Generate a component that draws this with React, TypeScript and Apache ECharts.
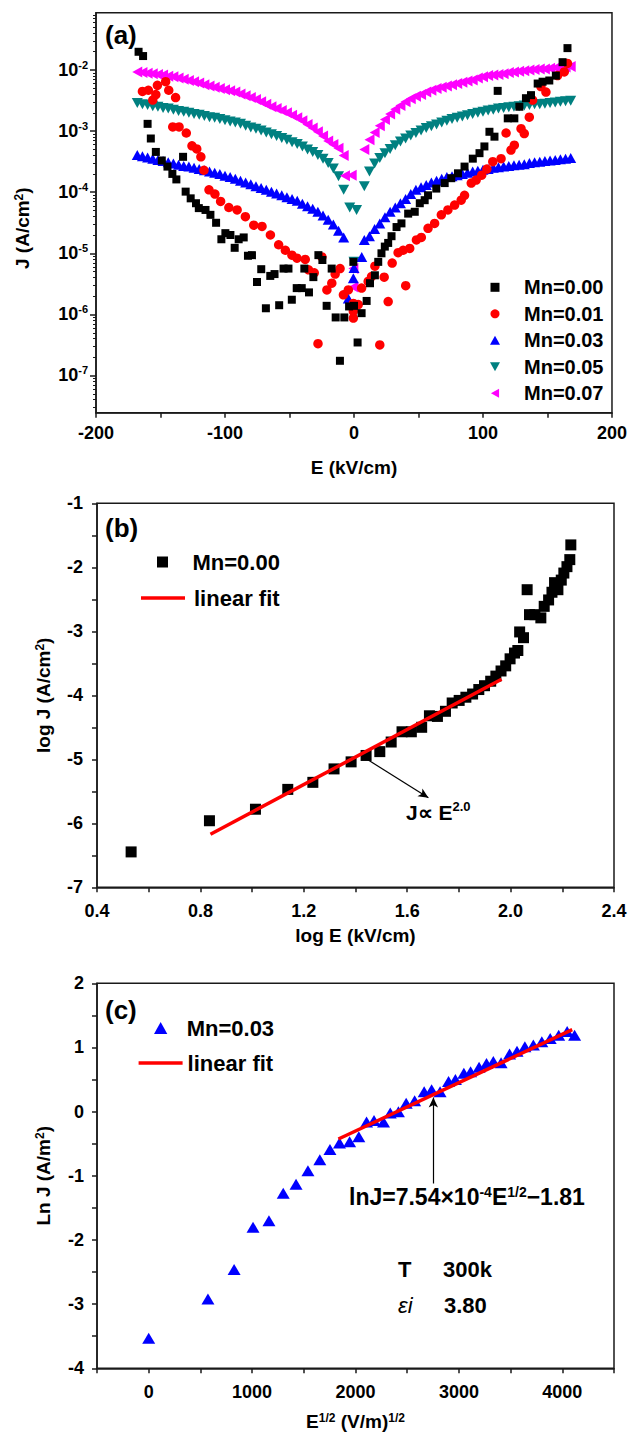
import React, { useEffect, useRef } from 'react';
import * as echarts from 'echarts';

const FONT = '"Liberation Sans", Arial, Helvetica, sans-serif';

// ---------------- Panel (a): log10 J (A/cm²) versus E (kV/cm) ----------------
const fieldLeft = [-168, -164, -160, -156, -152, -148, -144, -140, -136, -132, -128, -124, -120, -116, -112, -108, -104, -100, -96, -92, -88, -84, -80, -76, -72, -68, -64, -60, -56, -52, -48, -44, -40, -36, -32, -28, -24, -20, -16, -12, -8];
const fieldRight = [8, 12, 16, 20, 24, 28, 32, 36, 40, 44, 48, 52, 56, 60, 64, 68, 72, 76, 80, 84, 88, 92, 96, 100, 104, 108, 112, 116, 120, 124, 128, 132, 136, 140, 144, 148, 152, 156, 160, 164, 168];

const mn000E = [-167, -163.5, -160, -157.5, -153.6, -149, -144.6, -140.8, -137.7, -132.5, -130.5, -126.6, -122.5, -120.3, -115.1, -111.3, -106.9, -102.8, -99.7, -95.8, -92.5, -89.4, -85.5, -82.2, -79.1, -75.2, -71.9, -68.3, -64.9, -61.6, -58, -54.6, -50.8, -48.2, -44.4, -40.5, -38.5, -34.9, -31.5, -27.6, -24.5, -21.2, -17.3, -14.2, -10.9, -7.5, -3.8, -0.5, 0, 2.8, 5.9, 9.8, 12.4, 16.2, 18.8, 21.3, 23.9, 26.5, 29.1, 33, 36.8, 42, 47.1, 51, 54.8, 57.4, 63.8, 70.3, 75.4, 80.6, 85.7, 92.1, 97.3, 101.1, 105, 108.9, 111.4, 119.2, 124.3, 128.2, 133.3, 137.2, 142.4, 146.2, 151.4, 156.5, 161.7, 165.5];
const mn000LogJ = [-1.70, -1.77, -2.88, -3.12, -3.34, -3.48, -3.58, -3.70, -3.79, -3.42, -3.99, -4.10, -4.18, -4.26, -4.29, -4.37, -4.50, -4.77, -4.67, -4.70, -4.91, -4.77, -4.74, -5.04, -5.03, -5.47, -5.26, -5.90, -5.37, -5.34, -5.85, -5.25, -5.25, -5.76, -5.57, -5.57, -5.25, -5.64, -5.39, -5.03, -5.11, -5.86, -5.25, -6.05, -6.76, -6.05, -5.87, -5.14, -5.86, -6.46, -5.98, -5.78, -5.49, -5.36, -5.14, -5.00, -4.89, -4.83, -4.72, -4.57, -4.51, -4.35, -4.32, -4.18, -4.13, -4.05, -3.94, -3.85, -3.77, -3.69, -3.58, -3.45, -3.36, -3.25, -3.01, -3.09, -2.34, -2.79, -2.79, -2.60, -2.46, -2.41, -2.22, -2.19, -2.17, -2.09, -1.87, -1.64];

const mn001E = [-164, -159.4, -156, -153.6, -152.4, -146, -143.6, -138.3, -140.5, -135.6, -130, -125.6, -121.9, -118.7, -116.3, -112.4, -107.8, -103.4, -97, -90.6, -84.2, -77.7, -71.3, -64.8, -58.4, -53.2, -48.1, -44.2, -37.8, -35.2, -30.8, -27.9, -24.9, -21, -17.2, -14.6, -10.8, -8.2, -4.4, -0.5, -0.5, -0.5, 0.7, 3.3, 5.9, 11, 13.6, 16.2, 20, 23.4, 26.5, 29.6, 34.2, 38.1, 40.1, 43.2, 48.4, 52.2, 57.4, 62.5, 67.7, 72.8, 78, 83.1, 85.7, 90.9, 94.7, 99, 103, 107.6, 114, 117.9, 121.7, 124.3, 129.5, 132, 135.9, 138.5, 144.9, 148.8, 157.8, 163, 165.5];
const mn001LogJ = [-2.35, -2.33, -2.49, -2.40, -2.25, -2.19, -2.33, -2.45, -2.93, -2.93, -3.03, -3.24, -3.29, -3.42, -3.64, -3.96, -4.03, -4.15, -4.25, -4.29, -4.40, -4.54, -4.56, -4.70, -4.86, -4.95, -5.03, -5.08, -5.10, -5.27, -5.32, -6.48, -5.06, -5.60, -5.49, -5.34, -5.25, -5.68, -5.60, -5.82, -5.95, -6.06, -5.87, -5.84, -5.57, -5.46, -5.38, -5.21, -6.50, -5.39, -5.79, -5.16, -4.99, -4.95, -5.53, -4.92, -4.78, -4.74, -4.59, -4.51, -4.37, -4.29, -4.21, -4.13, -4.05, -3.85, -3.80, -3.72, -3.62, -3.50, -3.45, -3.03, -3.31, -3.23, -2.96, -3.04, -2.77, -2.49, -2.27, -2.36, -2.09, -2.03, -1.89];

const mn003Left = [-3.39, -3.41, -3.43, -3.45, -3.47, -3.49, -3.51, -3.53, -3.55, -3.57, -3.58, -3.60, -3.62, -3.64, -3.66, -3.68, -3.70, -3.73, -3.75, -3.78, -3.81, -3.84, -3.87, -3.90, -3.93, -3.96, -3.99, -4.02, -4.05, -4.08, -4.11, -4.14, -4.19, -4.23, -4.27, -4.32, -4.38, -4.45, -4.53, -4.63, -4.74];
const mn003Right = [-4.78, -4.72, -4.60, -4.51, -4.41, -4.32, -4.25, -4.18, -4.11, -4.03, -3.96, -3.92, -3.88, -3.84, -3.81, -3.78, -3.75, -3.74, -3.72, -3.70, -3.68, -3.66, -3.65, -3.63, -3.62, -3.60, -3.59, -3.58, -3.57, -3.56, -3.55, -3.54, -3.52, -3.51, -3.50, -3.49, -3.48, -3.47, -3.46, -3.45, -3.44];
const mn003CenterE = [-4.4, -0.5, 0, 6];
const mn003CenterLogJ = [-5.74, -5.41, -5.24, -5.06];

const mn005Left = [-2.54, -2.56, -2.57, -2.59, -2.60, -2.62, -2.63, -2.65, -2.67, -2.68, -2.70, -2.72, -2.73, -2.75, -2.77, -2.78, -2.80, -2.82, -2.84, -2.86, -2.88, -2.91, -2.94, -2.96, -2.99, -3.02, -3.05, -3.08, -3.11, -3.14, -3.18, -3.21, -3.25, -3.30, -3.34, -3.39, -3.45, -3.52, -3.61, -3.74, -3.96];
const mn005Right = [-3.90, -3.66, -3.53, -3.44, -3.36, -3.29, -3.23, -3.17, -3.12, -3.07, -3.03, -2.99, -2.95, -2.92, -2.89, -2.86, -2.83, -2.80, -2.78, -2.76, -2.74, -2.72, -2.70, -2.68, -2.66, -2.65, -2.63, -2.62, -2.61, -2.60, -2.59, -2.58, -2.57, -2.56, -2.56, -2.55, -2.54, -2.53, -2.52, -2.51, -2.50];
const mn005CenterE = [-3.3, 0, 2];
const mn005CenterLogJ = [-4.25, -5.14, -4.29];

const mn007Left = [-2.03, -2.04, -2.05, -2.06, -2.07, -2.08, -2.10, -2.11, -2.13, -2.15, -2.17, -2.19, -2.21, -2.24, -2.26, -2.28, -2.30, -2.32, -2.34, -2.36, -2.39, -2.42, -2.45, -2.48, -2.52, -2.56, -2.60, -2.63, -2.66, -2.70, -2.74, -2.78, -2.83, -2.89, -2.95, -3.01, -3.08, -3.16, -3.22, -3.28, -3.40];
const mn007Right = [-3.30, -3.14, -3.02, -2.91, -2.81, -2.72, -2.64, -2.58, -2.52, -2.47, -2.43, -2.40, -2.36, -2.33, -2.30, -2.28, -2.26, -2.24, -2.22, -2.20, -2.18, -2.16, -2.13, -2.11, -2.09, -2.08, -2.07, -2.06, -2.04, -2.03, -2.02, -2.01, -2.00, -1.99, -1.98, -1.98, -1.97, -1.96, -1.96, -1.95, -1.94];
const mn007CenterE = [-7, -1.8, -0.5, -0.5];
const mn007CenterLogJ = [-3.73, -3.72, -5.25, -5.55];

const decadeTicks = [-7, -6, -5, -4, -3, -2];
const fieldLabels = [-200, -100, 0, 100, 200];
const legendNamesA = ['Mn=0.00', 'Mn=0.01', 'Mn=0.03', 'Mn=0.05', 'Mn=0.07'];

// ---------------- Panel (b): log J versus log E, Mn=0.00 ----------------
const logEb = [0.532, 0.835, 1.013, 1.138, 1.235, 1.317, 1.383, 1.441, 1.494, 1.538, 1.580, 1.616, 1.656, 1.686, 1.717, 1.748, 1.774, 1.801, 1.827, 1.853, 1.877, 1.899, 1.923, 1.943, 1.963, 1.981, 1.998, 2.015, 2.028, 2.035, 2.050, 2.064, 2.073, 2.094, 2.117, 2.130, 2.147, 2.160, 2.170, 2.183, 2.196, 2.206, 2.218, 2.229, 2.233];
const logJb = [-6.447, -5.96, -5.78, -5.47, -5.36, -5.15, -5.04, -4.94, -4.88, -4.73, -4.57, -4.57, -4.50, -4.32, -4.33, -4.25, -4.12, -4.08, -4.03, -3.98, -3.91, -3.85, -3.78, -3.70, -3.62, -3.54, -3.43, -3.34, -3.30, -3.01, -3.10, -2.35, -2.74, -2.74, -2.79, -2.61, -2.51, -2.39, -2.24, -2.35, -2.20, -2.09, -1.99, -1.88, -1.65];
const fitBx = [0.839, 1.965];
const fitBy = [-6.17, -3.75];
const arrowBx = [1.425, 1.682];
const arrowBy = [-4.95, -5.60];
const logELabels = [0.4, 0.8, 1.2, 1.6, 2.0, 2.4];
const logJLabels = [-7, -6, -5, -4, -3, -2, -1];

// ---------------- Panel (c): Ln J versus E^1/2, Mn=0.03 ----------------
const sqrtEc = [0, 573, 826, 1009, 1163, 1301, 1425, 1540, 1655, 1753, 1845, 1943, 2032, 2107, 2179, 2271, 2336, 2415, 2490, 2572, 2664, 2736, 2818, 2900, 2966, 3048, 3113, 3195, 3267, 3333, 3408, 3490, 3562, 3638, 3720, 3802, 3883, 3965, 4047, 4119];
const lnJc = [-3.53, -2.92, -2.46, -1.80, -1.70, -1.27, -1.13, -0.92, -0.75, -0.59, -0.49, -0.47, -0.39, -0.16, -0.14, -0.16, -0.02, 0.00, 0.13, 0.17, 0.31, 0.34, 0.31, 0.47, 0.50, 0.60, 0.62, 0.69, 0.75, 0.78, 0.76, 0.90, 0.94, 1.01, 1.04, 1.09, 1.14, 1.19, 1.25, 1.19];
const fitCx = [1835, 4096];
const fitCy = [-0.426, 1.278];
const arrowCx = [2753, 2753];
const arrowCy = [-1.12, 0.22];
const sqrtELabels = [0, 1000, 2000, 3000, 4000];
const lnJLabels = [-4, -3, -2, -1, 0, 1, 2];

// ---------------- helpers ----------------
const pairs = (xs: number[], ys: number[]) => xs.map((x, i) => [x, ys[i]]);

const SQUARE = 'path://M0,0L10,0L10,10L0,10Z';
const TRI_UP = 'path://M5,0L10,9L0,9Z';
const TRI_DOWN = 'path://M0,0L10,0L5,9Z';
const TRI_LEFT = 'path://M0,5L9,0L9,10Z';
const LINE_ICON = 'path://M0,0L44,0L44,3.5L0,3.5Z';

const AX = '#1a1a1a';
const tickFont = { fontSize: 18, fontWeight: 'bold' as const, color: '#000', fontFamily: FONT };
const nameFont = { fontSize: 19, fontWeight: 'bold' as const, color: '#000', fontFamily: FONT };
const supRich = { sup: { fontSize: 12, fontWeight: 'bold' as const, fontFamily: FONT, verticalAlign: 'top' as const, lineHeight: 12, color: '#000' } };

const minorLogTicks: number[] = [];
for (let n = -8; n <= -2; n++) {
  for (let k = 2; k <= 9; k++) {
    const v = n + Math.log10(k);
    if (v > -7.61 && v < -1.06) minorLogTicks.push(v);
  }
}

function baseX(gridIndex: number, min: number, max: number, interval: number, labels: number[], fmt: (v: number) => string, margin: number, name: string, nameGap: number) {
  return {
    gridIndex, type: 'value', min, max, interval,
    axisLine: { show: true, onZero: false, lineStyle: { color: AX, width: 1.5 } },
    axisTick: { show: true, length: 5, inside: false, lineStyle: { color: AX, width: 1.5 } },
    axisLabel: { customValues: labels, formatter: fmt, margin, ...tickFont },
    splitLine: { show: false },
    name, nameLocation: 'middle', nameGap,
    nameTextStyle: { ...nameFont, rich: supRich },
  };
}

function buildOption() {
  const gridBox = { show: true, borderColor: AX, borderWidth: 1.5, backgroundColor: 'transparent' };
  const legendText = (size: number) => ({ fontSize: size, fontWeight: 'bold' as const, color: '#000', fontFamily: FONT, lineHeight: size });
  const solid = (color: string) => ({ color, opacity: 1 });

  return {
    animation: false,
    backgroundColor: '#fff',
    textStyle: { fontFamily: FONT },
    grid: [
      { left: 96, right: 16, top: 12.7, height: 400, ...gridBox },
      { left: 97, right: 16, top: 503.3, height: 384, ...gridBox },
      { left: 97, right: 16, top: 983.3, height: 385, ...gridBox },
    ],
    xAxis: [
      baseX(0, -200, 200, 50, fieldLabels, (v: number) => String(v), 11, 'E (kV/cm)', 45),
      baseX(1, 0.4, 2.4, 0.2, logELabels, (v: number) => v.toFixed(1), 15, 'log E (kV/cm)', 39),
      baseX(2, -500, 4500, 500, sqrtELabels, (v: number) => String(v), 15, 'E{sup|1/2} (V/m){sup|1/2}', 44),
    ],
    yAxis: [
      {
        gridIndex: 0, type: 'value', min: -7.61, max: -1.06, position: 'left',
        axisLine: { show: true, onZero: false, lineStyle: { color: AX, width: 1.5 } },
        axisTick: { show: true, length: 6, customValues: decadeTicks, lineStyle: { color: AX, width: 1.5 } },
        axisLabel: {
          customValues: decadeTicks, margin: 8, ...tickFont, lineHeight: 22,
          formatter: (v: number) => '10{sup|' + Math.round(v) + '}',
          rich: { sup: { fontSize: 11, fontWeight: 'bold', fontFamily: FONT, verticalAlign: 'top', lineHeight: 11, color: '#000' } },
        },
        splitLine: { show: false },
        name: 'J (A/cm{sup|2})', nameLocation: 'middle', nameGap: 64,
        nameTextStyle: { ...nameFont, rich: supRich, padding: [0, 31, 0, 0] },
      },
      {
        gridIndex: 0, type: 'value', min: -7.61, max: -1.06, position: 'left',
        axisLine: { show: false, onZero: false },
        axisTick: { show: true, length: 3, customValues: minorLogTicks, lineStyle: { color: AX, width: 1 } },
        axisLabel: { show: false },
        splitLine: { show: false },
      },
      {
        gridIndex: 1, type: 'value', min: -7, max: -1, interval: 0.5,
        axisLine: { show: true, onZero: false, lineStyle: { color: AX, width: 1.5 } },
        axisTick: { show: true, length: 5, lineStyle: { color: AX, width: 1.5 } },
        axisLabel: { customValues: logJLabels, formatter: (v: number) => String(v), margin: 14, ...tickFont },
        splitLine: { show: false },
        name: 'log J (A/cm{sup|2})', nameLocation: 'middle', nameGap: 44,
        nameTextStyle: { ...nameFont, rich: supRich },
      },
      {
        gridIndex: 2, type: 'value', min: -4, max: 2, interval: 0.5,
        axisLine: { show: true, onZero: false, lineStyle: { color: AX, width: 1.5 } },
        axisTick: { show: true, length: 5, lineStyle: { color: AX, width: 1.5 } },
        axisLabel: { customValues: lnJLabels, formatter: (v: number) => String(v), margin: 13, ...tickFont },
        splitLine: { show: false },
        name: 'Ln J (A/m{sup|2})', nameLocation: 'middle', nameGap: 44,
        nameTextStyle: { ...nameFont, rich: supRich },
      },
    ],
    legend: [
      {
        orient: 'vertical', left: 490, top: 277.3, padding: 0,
        itemWidth: 48, itemHeight: 9, itemGap: 6.5, selectedMode: false,
        data: legendNamesA, textStyle: legendText(20),
      },
      {
        orient: 'vertical', left: 157, top: 551, padding: 0,
        itemWidth: 50, itemHeight: 11, selectedMode: false,
        data: ['Mn=0.00'], textStyle: legendText(22),
      },
      {
        orient: 'vertical', left: 141, top: 587, padding: 0,
        itemWidth: 44, itemHeight: 3.5, selectedMode: false,
        data: [{ name: 'linear fit', icon: LINE_ICON, itemStyle: { color: '#ff0000', borderWidth: 0 } }],
        textStyle: { ...legendText(22), padding: [0, 0, 0, 4] },
      },
      {
        orient: 'vertical', left: 154, top: 1017, padding: 0,
        itemWidth: 42, itemHeight: 12, selectedMode: false,
        data: ['Mn=0.03'], textStyle: legendText(22),
      },
      {
        orient: 'vertical', left: 138.6, top: 1052, padding: 0,
        itemWidth: 44, itemHeight: 3.5, selectedMode: false,
        data: [{ name: 'linear fit', icon: LINE_ICON, itemStyle: { color: '#ff0000', borderWidth: 0 } }],
        textStyle: legendText(22),
      },
    ],
    series: [
      {
        name: 'Mn=0.00', type: 'scatter', xAxisIndex: 0, yAxisIndex: 0, z: 6,
        symbol: SQUARE, symbolSize: 8, itemStyle: solid('#000000'),
        data: pairs(mn000E, mn000LogJ),
      },
      {
        name: 'Mn=0.01', type: 'scatter', xAxisIndex: 0, yAxisIndex: 0, z: 5,
        symbol: 'circle', symbolSize: 9.5, itemStyle: solid('#ff0000'),
        data: pairs(mn001E, mn001LogJ),
      },
      {
        name: 'Mn=0.03', type: 'scatter', xAxisIndex: 0, yAxisIndex: 0, z: 4,
        symbol: TRI_UP, symbolSize: [11, 10], itemStyle: solid('#0000ff'),
        data: [...pairs(fieldLeft, mn003Left), ...pairs(mn003CenterE, mn003CenterLogJ), ...pairs(fieldRight, mn003Right)],
      },
      {
        name: 'Mn=0.05', type: 'scatter', xAxisIndex: 0, yAxisIndex: 0, z: 3,
        symbol: TRI_DOWN, symbolSize: [11, 10], itemStyle: solid('#008080'),
        data: [...pairs(fieldLeft, mn005Left), ...pairs(mn005CenterE, mn005CenterLogJ), ...pairs(fieldRight, mn005Right)],
      },
      {
        name: 'Mn=0.07', type: 'scatter', xAxisIndex: 0, yAxisIndex: 0, z: 3,
        symbol: TRI_LEFT, symbolSize: [10, 11], itemStyle: solid('#ff00ff'),
        data: [...pairs(fieldLeft, mn007Left), ...pairs(mn007CenterE, mn007CenterLogJ), ...pairs(fieldRight, mn007Right)],
      },
      {
        name: 'Mn=0.00', type: 'scatter', xAxisIndex: 1, yAxisIndex: 2,
        symbol: SQUARE, symbolSize: 11, itemStyle: solid('#000000'),
        data: pairs(logEb, logJb),
      },
      {
        name: 'linear fit', type: 'line', xAxisIndex: 1, yAxisIndex: 2, z: 5,
        showSymbol: false, symbol: 'none', color: '#ff0000',
        lineStyle: { color: '#ff0000', width: 3.5 }, itemStyle: { color: '#ff0000' },
        data: pairs(fitBx, fitBy),
        markLine: {
          silent: true, symbol: ['none', 'arrow'], symbolSize: [7, 10],
          label: { show: false },
          lineStyle: { color: '#000', width: 1.2, type: 'solid' },
          data: [[{ coord: [arrowBx[0], arrowBy[0]] }, { coord: [arrowBx[1], arrowBy[1]] }]],
        },
      },
      {
        name: 'Mn=0.03', type: 'scatter', xAxisIndex: 2, yAxisIndex: 3,
        symbol: TRI_UP, symbolSize: [13, 11], itemStyle: solid('#0000ff'),
        data: pairs(sqrtEc, lnJc),
      },
      {
        name: 'linear fit', type: 'line', xAxisIndex: 2, yAxisIndex: 3, z: 5,
        showSymbol: false, symbol: 'none', color: '#ff0000',
        lineStyle: { color: '#ff0000', width: 3.5 }, itemStyle: { color: '#ff0000' },
        data: pairs(fitCx, fitCy),
        markLine: {
          silent: true, symbol: ['none', 'arrow'], symbolSize: [7, 10],
          label: { show: false },
          lineStyle: { color: '#000', width: 1.2, type: 'solid' },
          data: [[{ coord: [arrowCx[0], arrowCy[0]] }, { coord: [arrowCx[1], arrowCy[1]] }]],
        },
      },
    ],
    graphic: [
      { type: 'text', x: 105, y: 35, style: { text: '(a)', fill: '#000', font: 'bold 26px ' + FONT, align: 'left', verticalAlign: 'middle' } },
      { type: 'text', x: 105, y: 528, style: { text: '(b)', fill: '#000', font: 'bold 26px ' + FONT, align: 'left', verticalAlign: 'middle' } },
      { type: 'text', x: 105, y: 1010, style: { text: '(c)', fill: '#000', font: 'bold 26px ' + FONT, align: 'left', verticalAlign: 'middle' } },
      {
        type: 'text', x: 406, y: 812,
        style: {
          text: 'J∝ E{sup|2.0}', fill: '#000', font: 'bold 21px ' + FONT, align: 'left', verticalAlign: 'middle', lineHeight: 24,
          rich: { sup: { fontSize: 13, fontWeight: 'bold', fontFamily: FONT, verticalAlign: 'top', lineHeight: 13, fill: '#000' } },
        },
      },
      {
        type: 'text', x: 349, y: 1197,
        style: {
          text: 'lnJ=7.54×10{sup|-4}E{sup|1/2}−1.81', fill: '#000', font: 'bold 23px ' + FONT, align: 'left', verticalAlign: 'middle', lineHeight: 25,
          rich: { sup: { fontSize: 14, fontWeight: 'bold', fontFamily: FONT, verticalAlign: 'top', lineHeight: 13, fill: '#000' } },
        },
      },
      { type: 'text', x: 398, y: 1269, style: { text: 'T', fill: '#000', font: 'bold 22px ' + FONT, align: 'left', verticalAlign: 'middle' } },
      { type: 'text', x: 443, y: 1269, style: { text: '300k', fill: '#000', font: 'bold 22px ' + FONT, align: 'left', verticalAlign: 'middle' } },
      { type: 'text', x: 398, y: 1305, style: { text: 'εi', fill: '#000', font: 'italic 22px ' + FONT, align: 'left', verticalAlign: 'middle' } },
      { type: 'text', x: 444, y: 1305, style: { text: '3.80', fill: '#000', font: 'bold 22px ' + FONT, align: 'left', verticalAlign: 'middle' } },
    ],
  };
}

export default function App() {
  const ref = useRef<HTMLDivElement>(null);
  useEffect(() => {
    if (!ref.current) return;
    const chart = echarts.init(ref.current, null, { renderer: 'svg' });
    chart.setOption(buildOption() as any);
    return () => chart.dispose();
  }, []);
  return (
    <div
      ref={ref}
      style={{ position: 'absolute', left: 0, top: 0, width: 630, height: 1441, background: '#fff' }}
    />
  );
}
